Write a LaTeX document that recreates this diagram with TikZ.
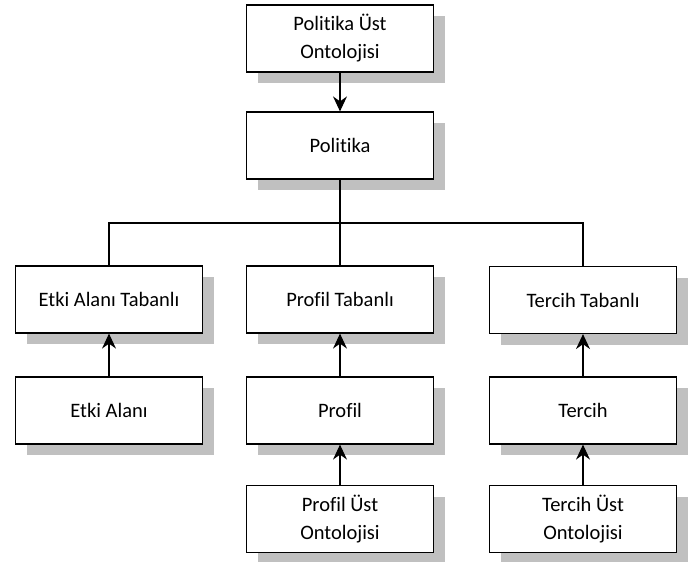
\documentclass[tikz,border=0pt]{standalone}
\usepackage{fontspec}
\setmainfont[Ligatures={NoCommon,NoRequired,NoContextual}]{Carlito}
\usetikzlibrary{arrows.meta,shadows}
\definecolor{shadowgray}{RGB}{192,192,192}
\begin{document}
\begin{tikzpicture}[x=1pt,y=1pt,
  box/.style={draw=black, line width=1.2pt, fill=white, minimum width=187pt, minimum height=67pt,
    inner sep=0pt, align=center, font=\fontsize{20.5}{28}\selectfont,
    drop shadow={shadow xshift=11pt, shadow yshift=-11pt, fill=shadowgray, opacity=1}},
  link/.style={line width=1.2pt},
  arr/.style={line width=1.2pt, -{Stealth[length=15pt, width=14pt, inset=5pt]}}]
\useasboundingbox (0,0) rectangle (696,-562);
\node[box] (top) at (340,-38.5) {Politika Üst\\Ontolojisi};
\node[box] (pol) at (340,-145.5) {Politika};
\node[box] (etb) at (109,-299.5) {Etki Alanı Tabanlı};
\node[box] (ptb) at (340,-299.5) {Profil Tabanlı};
\node[box] (ttb) at (583,-300) {Tercih Tabanlı};
\node[box] (ea) at (109,-410.5) {Etki Alanı};
\node[box] (pr) at (340,-410.5) {Profil};
\node[box] (te) at (583,-410.5) {Tercih};
\node[box] (pu) at (340,-519) {Profil Üst\\Ontolojisi};
\node[box] (tu) at (583,-519) {Tercih Üst\\Ontolojisi};
\coordinate (j) at (340,-223);
\draw[arr] (top) -- (pol);
\draw[link] (pol.south) -- (j);
\draw[link] (etb.north) |- (j) -| (ttb.north);
\draw[link] (j) -- (ptb.north);
\draw[arr] (ea) -- (etb);
\draw[arr] (pr) -- (ptb);
\draw[arr] (te) -- (ttb);
\draw[arr] (pu) -- (pr);
\draw[arr] (tu) -- (te);
\end{tikzpicture}
\end{document}
